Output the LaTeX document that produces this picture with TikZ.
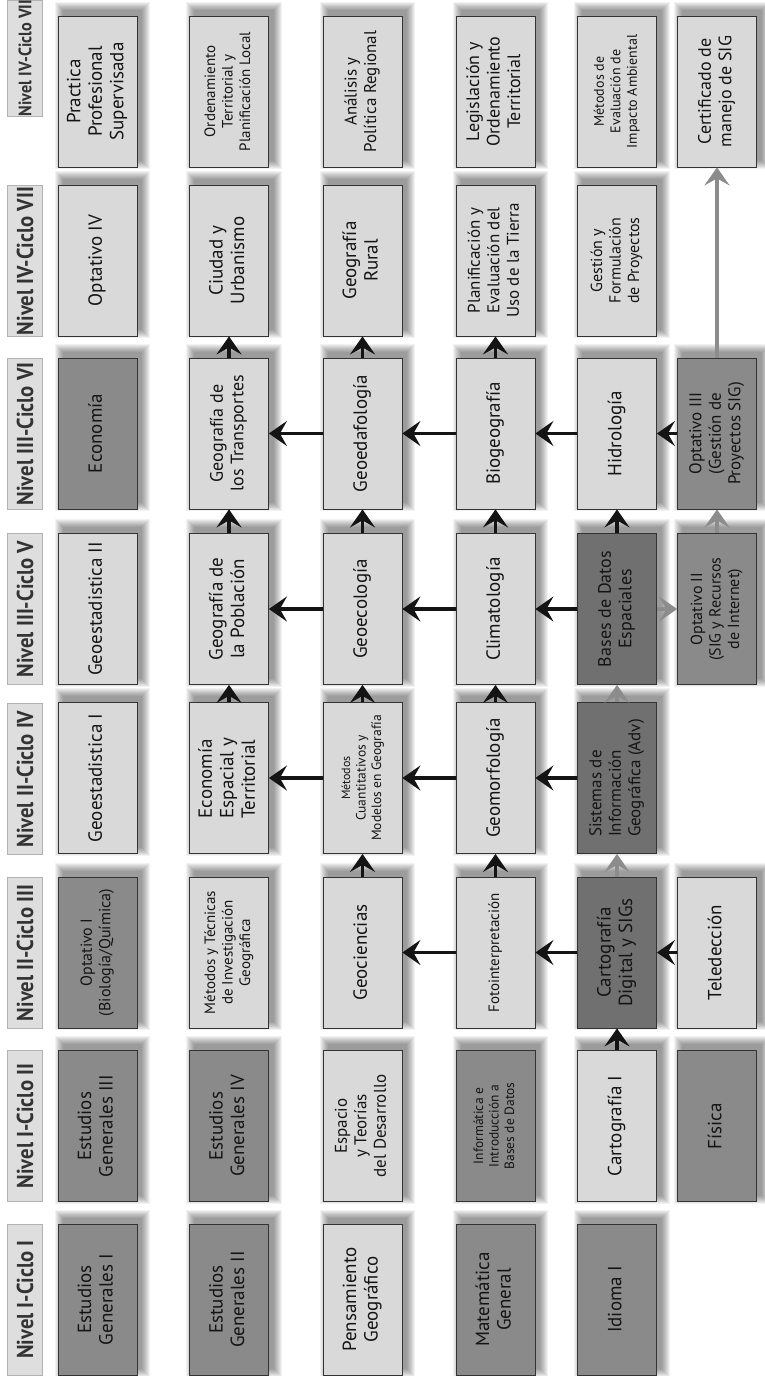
\documentclass[tikz,border=0pt]{standalone}
\usepackage{fontspec}
\usepackage{graphicx}
\setmainfont{PT Sans}
\newfontfamily\hdrfont[FakeStretch=0.9]{PT Sans}
\usetikzlibrary{arrows.meta,backgrounds}
\definecolor{dk}{HTML}{8A8A8A}
\definecolor{dkr}{HTML}{707070}
\definecolor{lt}{HTML}{D9D9D9}
\definecolor{hd}{HTML}{DEDEDE}
\definecolor{gr}{HTML}{8C8C8C}
\newcommand{\rt}[2][c]{\rotatebox{90}{\begin{tabular}{@{}#1@{}}#2\end{tabular}}}
\begin{document}
\begin{tikzpicture}[x=1pt,y=-1pt,
  box/.style={draw=black!80, line width=0.8pt, minimum width=79pt, minimum height=151pt, inner sep=0pt, text=black!92, font=\fontsize{19}{21.5}\selectfont},
  dkbox/.style={box, fill=dk},
  dkrbox/.style={box, fill=dkr},
  ltbox/.style={box, fill=lt},
  f18/.style={font=\fontsize{18}{20.5}\selectfont},
  f17/.style={font=\fontsize{17}{19.5}\selectfont},
  f16/.style={font=\fontsize{16}{18.5}\selectfont},
  f15/.style={font=\fontsize{15}{17.5}\selectfont},
  f14/.style={font=\fontsize{14}{16.5}\selectfont},
  f13/.style={font=\fontsize{13.5}{15.5}\selectfont},
  hdrbox/.style={fill=hd, draw=hd!80!black, line width=0.4pt, minimum width=35pt, minimum height=151pt, inner sep=0pt, text=black!80, font=\hdrfont\bfseries\fontsize{23}{26}\selectfont},
  arr/.style={draw=black!92, line width=3.6pt, -{Stealth[length=18pt,width=25pt,inset=7pt]}},
  garr/.style={arr, draw=gr, fill=gr},
]
\useasboundingbox (0,0) rectangle (765,1376);

% headers
\node[hdrbox, minimum height=100pt, font=\hdrfont\bfseries\fontsize{18}{20}\selectfont] (h8) at (25,58) {\rotatebox{90}{Nivel IV-Ciclo VII}};
\node[hdrbox] (h7) at (25,261) {\rotatebox{90}{Nivel IV-Ciclo VII}};
\node[hdrbox] (h6) at (25,434) {\rotatebox{90}{Nivel III-Ciclo VI}};
\node[hdrbox] (h5) at (25,609) {\rotatebox{90}{Nivel III-Ciclo V}};
\node[hdrbox] (h4) at (25,779) {\rotatebox{90}{Nivel II-Ciclo IV}};
\node[hdrbox] (h3) at (25,953) {\rotatebox{90}{Nivel II-Ciclo III}};
\node[hdrbox] (h2) at (25,1126) {\rotatebox{90}{Nivel I-Ciclo II}};
\node[hdrbox] (h1) at (25,1299.5) {\rotatebox{90}{Nivel I-Ciclo I}};

% row 1 (Ciclo I)
\node[dkbox] (b11) at (97.5,1299.5) {\rt{Estudios\\Generales I}};
\node[dkbox] (b12) at (229,1299.5) {\rt{Estudios\\Generales II}};
\node[ltbox] (b13) at (362.5,1299.5) {\rt{Pensamiento\\Geográfico}};
\node[dkbox] (b14) at (495.5,1299.5) {\rt{Matemática\\General}};
\node[dkbox] (b15) at (617,1299.5) {\rt{Idioma I}};

% row 2 (Ciclo II)
\node[dkbox] (b21) at (97.5,1126) {\rt{Estudios\\Generales III}};
\node[dkbox] (b22) at (229,1126) {\rt{Estudios\\Generales IV}};
\node[ltbox,f17] (b23) at (362.5,1126) {\rt{Espacio\\y Teorías\\del Desarrollo}};
\node[dkbox,f13] (b24) at (495.5,1126) {\rt{Informática e\\Introducción a\\Bases de Datos}};
\node[ltbox] (b25) at (617,1126) {\rt{Cartografía I}};
\node[dkbox] (b26) at (717,1126) {\rt{Física}};

% row 3 (Ciclo III)
\node[dkbox,f16] (b31) at (97.5,952.5) {\rt{Optativo I\\(Biología/Química)}};
\node[ltbox,f15] (b32) at (229,952.5) {\rt{Métodos y Técnicas\\de Investigación\\Geográfica}};
\node[ltbox] (b33) at (362.5,952.5) {\rt{Geociencias}};
\node[ltbox,f15] (b34) at (495.5,952.5) {\rt{Fotointerpretación}};
\node[dkrbox] (b35) at (617,952.5) {\rt{Cartografía\\Digital y SIGs}};
\node[ltbox] (b36) at (717,952.5) {\rt{Teledección}};

% row 4 (Ciclo IV)
\node[ltbox] (b41) at (97.5,778) {\rt{Geoestadistica I}};
\node[ltbox] (b42) at (229,778) {\rt[l]{Economía\\Espacial y\\Territorial}};
\node[ltbox,f13] (b43) at (362.5,778) {\rt{{\fontsize{12}{14}\selectfont Métodos}\\Cuantitativos y\\Modelos en Geografía}};
\node[ltbox] (b44) at (495.5,778) {\rt{Geomorfología}};
\node[dkrbox,f17] (b45) at (617,778) {\rt[l]{Sistemas de\\Información\\Geográfica (Adv)}};

% row 5 (Ciclo V)
\node[ltbox] (b51) at (97.5,609) {\rt{Geoestadistica II}};
\node[ltbox] (b52) at (229,609) {\rt{Geografía de\\la Población}};
\node[ltbox] (b53) at (362.5,609) {\rt{Geoecología}};
\node[ltbox] (b54) at (495.5,609) {\rt{Climatología}};
\node[dkrbox,f18] (b55) at (617,609) {\rt{Bases de Datos\\Espaciales}};
\node[dkbox,f16] (b56) at (717,609) {\rt{Optativo II\\(SIG y Recursos\\de Internet)}};

% row 6 (Ciclo VI)
\node[dkbox] (b61) at (97.5,433.5) {\rt{Economía}};
\node[ltbox,f18] (b62) at (229,433.5) {\rt{Geografía de\\los Transportes}};
\node[ltbox] (b63) at (362.5,433.5) {\rt{Geoedafología}};
\node[ltbox] (b64) at (495.5,433.5) {\rt{Biogeografía}};
\node[ltbox] (b65) at (617,433.5) {\rt{Hidrología}};
\node[dkbox,f17] (b66) at (717,433.5) {\rt{Optativo III\\(Gestión de\\Proyectos SIG)}};

% row 7 (Ciclo VII)
\node[ltbox] (b71) at (97.5,260.5) {\rt{Optativo IV}};
\node[ltbox] (b72) at (229,260.5) {\rt{Ciudad y\\Urbanismo}};
\node[ltbox] (b73) at (362.5,260.5) {\rt{Geografía\\Rural}};
\node[ltbox,f17] (b74) at (495.5,260.5) {\rt{Planificación y\\Evaluación del\\Uso de la Tierra}};
\node[ltbox,f16] (b75) at (617,260.5) {\rt{Gestión y\\Formulación\\de Proyectos}};

% row 8 (Ciclo VII, top)
\node[ltbox] (b81) at (97.5,91.5) {\rt{Practica\\Profesional\\Supervisada}};
\node[ltbox,f15] (b82) at (229,91.5) {\rt{Ordenamiento\\Territorial y\\Planificación Local}};
\node[ltbox,f17] (b83) at (362.5,91.5) {\rt{Análisis y\\Política Regional}};
\node[ltbox,f18] (b84) at (495.5,91.5) {\rt{Legislación y\\Ordenamiento\\Territorial}};
\node[ltbox,f14] (b85) at (617,91.5) {\rt{Métodos de\\Evaluación de\\Impacto Ambiental}};
\node[ltbox,f18] (b86) at (717,91.5) {\rt{Certificado de\\manejo de SIG}};

% shadows and background
\begin{scope}[on background layer]
\fill[white] (0,0) rectangle (765,1376);
\foreach \n in {b11,b12,b13,b14,b15,b21,b22,b23,b24,b25,b26,b31,b32,b33,b34,b35,b36,b41,b42,b43,b44,b45,b51,b52,b53,b54,b55,b56,b61,b62,b63,b64,b65,b66,b71,b72,b73,b74,b75,b81,b82,b83,b84,b85,b86}{
  \foreach \i in {0,...,8}{
    \fill[black,opacity=0.05] ([xshift={(5-\i)*1pt},yshift={(6-\i)*1pt}]\n.south west) rectangle ([xshift={(5+\i)*1pt},yshift={(6+\i)*1pt}]\n.north east);
  }
}
\end{scope}

% vertical arrows (to next cycle)
\draw[arr] (b25.north) -- (b35.south);
\draw[arr] (b33.north) -- (b43.south);
\draw[arr] (b34.north) -- (b44.south);
\draw[garr] (b35.north) -- (b45.south);
\draw[arr] (b42.north) -- (b52.south);
\draw[arr] (b43.north) -- (b53.south);
\draw[arr] (b44.north) -- (b54.south);
\draw[garr] (b45.north) -- (b55.south);
\draw[arr] (b52.north) -- (b62.south);
\draw[arr] (b53.north) -- (b63.south);
\draw[arr] (b54.north) -- (b64.south);
\draw[arr] (b55.north) -- (b65.south);
\draw[garr] (b56.north) -- (b66.south);
\draw[arr] (b62.north) -- (b72.south);
\draw[arr] (b63.north) -- (b73.south);
\draw[arr] (b64.north) -- (b74.south);
\draw[garr] (b66.north) -- (b86.south);

% horizontal arrows
\draw[arr] (b36.west) -- (b35.east);
\draw[arr] (b35.west) -- (b34.east);
\draw[arr] (b34.west) -- (b33.east);
\draw[arr] (b45.west) -- (b44.east);
\draw[arr] (b44.west) -- (b43.east);
\draw[arr] (b43.west) -- (b42.east);
\draw[garr] (b55.east) -- (b56.west);
\draw[arr] (b55.west) -- (b54.east);
\draw[arr] (b54.west) -- (b53.east);
\draw[arr] (b53.west) -- (b52.east);
\draw[arr] (b66.west) -- (b65.east);
\draw[arr] (b65.west) -- (b64.east);
\draw[arr] (b64.west) -- (b63.east);
\draw[arr] (b63.west) -- (b62.east);
\end{tikzpicture}
\end{document}
